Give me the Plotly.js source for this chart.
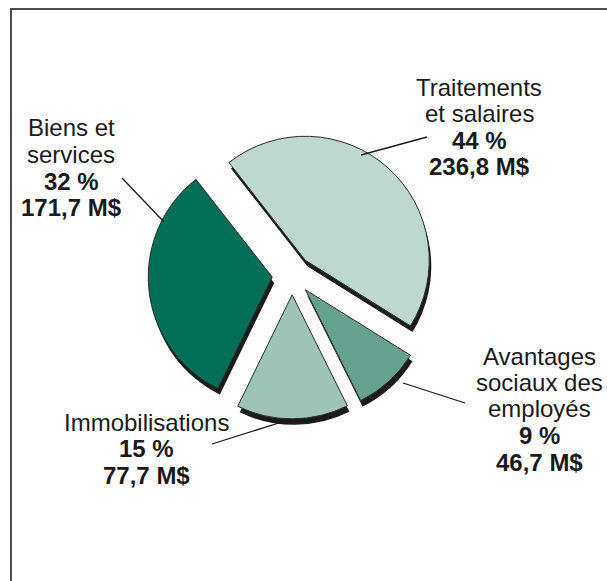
<!DOCTYPE html>
<html>
<head>
<meta charset="utf-8">
<script src="https://cdn.plot.ly/plotly-3.0.1.min.js"></script>
<style>
html,body{margin:0;padding:0;background:#fff;}
#chart{width:607px;height:581px;}
</style>
</head>
<body>
<div id="chart"></div>
<script>
// ---- data ----
const categories = ["Traitements et salaires", "Avantages sociaux des employés", "Immobilisations", "Biens et services"];
const labelLines = [["Traitements", "et salaires"], ["Avantages", "sociaux des", "employés"], ["Immobilisations"], ["Biens et", "services"]];
const percents = [44, 9, 15, 32];
const amounts = [236.8, 46.7, 77.7, 171.7];   // M$
const colors = ["#BED8D0", "#66A08F", "#9EC4B8", "#006F56"];

// ---- layout helpers ----
const W = 607, H = 581;
const px = x => x / W;
const py = y => 1 - y / H;

const pieCx = 292, pieCy = 275, pieR = 124, pull = 0.16;
const half = pieR * (1 + pull);
const dom = (dx, dy) => ({
  x: [px(pieCx + dx - half), px(pieCx + dx + half)],
  y: [py(pieCy + dy + half), py(pieCy + dy - half)]
});

const common = {
  type: "pie",
  labels: categories,
  values: amounts,
  sort: false,
  direction: "clockwise",
  rotation: -38,
  pull: amounts.map(() => pull),
  textinfo: "none",
  hoverinfo: "none",
  showlegend: false
};

const shadow = Object.assign({}, common, {
  domain: dom(2, 6),
  marker: { colors: amounts.map(() => "#1b1b1b"), line: { width: 0 } }
});
const main = Object.assign({}, common, {
  domain: dom(0, 0),
  marker: { colors: colors, line: { color: "#2b2b2b", width: 1 } }
});

// label block positions (centre x, first line y) and line step
const labelPos = [[479, 87], [539, 356], [146, 422], [71, 128]];
const step = 26.5;
const fmt = v => v.toFixed(1).replace(".", ",") + " M$";

const annotations = [];
categories.forEach((c, i) => {
  const lines = labelLines[i].concat(["<b>" + percents[i] + " %</b>", "<b>" + fmt(amounts[i]) + "</b>"]);
  lines.forEach((t, k) => {
    annotations.push({
      xref: "paper", yref: "paper",
      x: px(labelPos[i][0]), y: py(labelPos[i][1] + k * step),
      xanchor: "center", yanchor: "middle",
      text: t, showarrow: false,
      font: { family: "Liberation Sans, Arial, sans-serif", size: 24, color: "#1a1a1a" }
    });
  });
});

// leader lines (slice -> label)
const leaders = [[361, 155, 427, 137], [403, 383, 465, 403], [282, 422, 212, 444], [164, 222, 122, 178]];
const shapes = leaders.map(l => ({
  type: "line", xref: "paper", yref: "paper",
  x0: px(l[0]), y0: py(l[1]), x1: px(l[2]), y1: py(l[3]),
  line: { color: "#1a1a1a", width: 1.3 }
}));
// frame (left and top edges visible)
shapes.push({ type: "line", xref: "paper", yref: "paper", x0: px(11), y0: py(9), x1: px(11), y1: 0, line: { color: "#4d4d4d", width: 2 } });
shapes.push({ type: "line", xref: "paper", yref: "paper", x0: px(10), y0: py(9), x1: 1, y1: py(9), line: { color: "#4d4d4d", width: 2 } });

Plotly.newPlot("chart", [shadow, main], {
  width: W, height: H,
  margin: { l: 0, r: 0, t: 0, b: 0 },
  paper_bgcolor: "#ffffff",
  annotations: annotations,
  shapes: shapes
}, { displayModeBar: false, staticPlot: true });
</script>
</body>
</html>
